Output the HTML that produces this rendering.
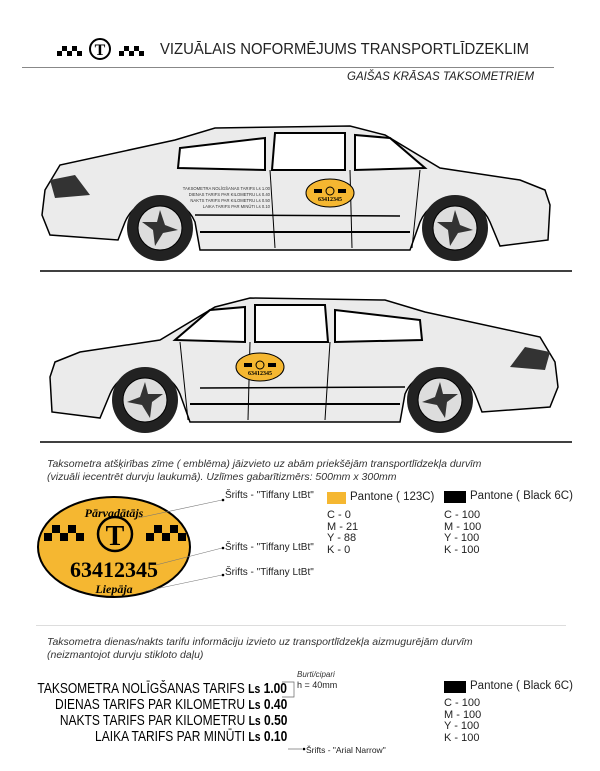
<!DOCTYPE html>
<html><head><meta charset="utf-8"><style>
body{margin:0;width:600px;height:771px;background:#fff;position:relative;font-family:"Liberation Sans",sans-serif;overflow:hidden}
.a{position:absolute;white-space:nowrap}
.sm{font-size:10px;color:#222}
.it{font-style:italic;font-size:10.5px;color:#333}
.tar{font-family:"Liberation Sans",sans-serif;font-size:15px;transform:scaleX(.8);transform-origin:right top;text-align:right;right:0}
</style></head><body>
<div class="a" style="left:55px;top:37px;">
<svg width="100" height="24" viewBox="0 0 100 24">
<g fill="#000"><rect x="2" y="14" width="5" height="5"/><rect x="7" y="9" width="5" height="5"/><rect x="12" y="14" width="5" height="5"/><rect x="17" y="9" width="5" height="5"/><rect x="22" y="14" width="5" height="5"/>
<rect x="64" y="14" width="5" height="5"/><rect x="69" y="9" width="5" height="5"/><rect x="74" y="14" width="5" height="5"/><rect x="79" y="9" width="5" height="5"/><rect x="84" y="14" width="5" height="5"/></g>
<circle cx="45" cy="12" r="10" fill="none" stroke="#000" stroke-width="2"/><text x="45" y="18" font-size="16" font-family="Liberation Serif" font-weight="bold" text-anchor="middle">T</text></svg></div>
<div class="a" style="left:160px;top:41px;font-size:15.5px;color:#222;transform:scaleX(.96);transform-origin:left top">VIZUĀLAIS NOFORMĒJUMS TRANSPORTLĪDZEKLIM</div>
<div class="a" style="left:22px;top:67px;width:532px;border-top:1px solid #888"></div>
<div class="a" style="left:347px;top:71px;font-size:11.5px;font-style:italic;color:#222">GAIŠAS KRĀSAS TAKSOMETRIEM</div>

<svg class="a" style="left:0;top:0" width="600" height="460">
<defs>
<g id="car">
<path d="M45,190 L60,165 L175,140 L215,128 L350,126 L385,135 L440,168 L520,180 L545,190 L550,205 L548,240 L500,246 L490,222 A38,38 0 0 0 420,222 L410,250 L200,250 L195,222 A38,38 0 0 0 125,222 L118,240 L50,235 L42,215 Z" fill="#ebebeb" stroke="#000" stroke-width="1.5"/>
<path d="M178,168 L180,148 L265,138 L265,170 Z" fill="#fff" stroke="#000" stroke-width="2"/>
<path d="M272,170 L275,133 L345,133 L345,170 Z" fill="#fff" stroke="#000" stroke-width="2"/>
<path d="M355,170 L355,135 L390,138 L425,168 Z" fill="#fff" stroke="#000" stroke-width="2"/>
<path d="M50,180 L75,175 L90,195 L55,198 Z" fill="#333"/>
<line x1="200" y1="232" x2="410" y2="232" stroke="#000" stroke-width="2"/>
<line x1="270" y1="170" x2="275" y2="248" stroke="#000"/>
<line x1="350" y1="170" x2="352" y2="248" stroke="#000"/>
<line x1="420" y1="170" x2="412" y2="248" stroke="#000"/>
<line x1="195" y1="215" x2="400" y2="216" stroke="#000" stroke-width="1.5"/>
<circle cx="160" cy="228" r="33" fill="#222"/><circle cx="160" cy="228" r="22" fill="#ddd" stroke="#000"/>
<path d="M160,210 L165,225 L178,230 L163,233 L155,246 L153,230 L142,222 L157,222Z" fill="#333"/>
<circle cx="455" cy="228" r="33" fill="#222"/><circle cx="455" cy="228" r="22" fill="#ddd" stroke="#000"/>
<path d="M455,210 L460,225 L473,230 L458,233 L450,246 L448,230 L437,222 L452,222Z" fill="#333"/>
</g>
<g id="emb"><ellipse cx="0" cy="0" rx="24" ry="14" fill="#f5b731" stroke="#000"/>
<rect x="-16" y="-4" width="8" height="4" fill="#000"/><rect x="8" y="-4" width="8" height="4" fill="#000"/><circle cx="0" cy="-2" r="4" fill="none" stroke="#000"/>
<text x="0" y="8" font-size="6" font-family="Liberation Serif" font-weight="bold" text-anchor="middle">63412345</text></g>
</defs>
<use href="#car"/>
<line x1="40" y1="271" x2="572" y2="271" stroke="#000" stroke-width="1.5"/>
<use href="#emb" transform="translate(330,193)"/>
<g font-size="4.2" fill="#333" text-anchor="end"><text x="270" y="190">TAKSOMETRA NOLĪGŠANAS TARIFS Ls 1.00</text><text x="270" y="196">DIENAS TARIFS PAR KILOMETRU Ls 0.40</text><text x="270" y="202">NAKTS TARIFS PAR KILOMETRU Ls 0.50</text><text x="270" y="208">LAIKA TARIFS PAR MINŪTI Ls 0.10</text></g>
<use href="#car" transform="translate(600,172) scale(-1,1)"/>
<line x1="40" y1="442" x2="572" y2="442" stroke="#000" stroke-width="1.5"/>
<use href="#emb" transform="translate(260,367)"/>
</svg>

<div class="a it" style="left:47px;top:458px;line-height:13px">Taksometra atšķirības zīme ( emblēma) jāizvieto uz abām priekšējām transportlīdzekļa durvīm<br>(vizuāli iecentrēt durvju laukumā). Uzlīmes gabarītizmērs: 500mm x 300mm</div>

<svg class="a" style="left:36px;top:495px" width="280" height="110">
<ellipse cx="78" cy="52" rx="76" ry="50" fill="#f5b731" stroke="#000" stroke-width="2"/>
<text x="78" y="22" font-size="12" font-family="Liberation Serif" font-style="italic" font-weight="bold" text-anchor="middle">Pārvadātājs</text>
<g fill="#000"><rect x="8" y="38" width="8" height="8"/><rect x="16" y="30" width="8" height="8"/><rect x="24" y="38" width="8" height="8"/><rect x="32" y="30" width="8" height="8"/><rect x="40" y="38" width="8" height="8"/>
<rect x="110" y="38" width="8" height="8"/><rect x="118" y="30" width="8" height="8"/><rect x="126" y="38" width="8" height="8"/><rect x="134" y="30" width="8" height="8"/><rect x="142" y="38" width="8" height="8"/></g>
<circle cx="79" cy="39" r="17" fill="none" stroke="#000" stroke-width="2.5"/>
<text x="79" y="50" font-size="28" font-family="Liberation Serif" font-weight="bold" text-anchor="middle">T</text>
<text x="78" y="82" font-size="22" font-family="Liberation Serif" font-weight="bold" text-anchor="middle">63412345</text>
<text x="78" y="98" font-size="12" font-family="Liberation Serif" font-style="italic" font-weight="bold" text-anchor="middle">Liepāja</text>
<g stroke="#777" stroke-width="0.6"><line x1="102" y1="23" x2="186" y2="5"/><line x1="120" y1="70" x2="186" y2="53"/><line x1="110" y1="96" x2="186" y2="80"/></g>
<g fill="#000"><circle cx="187" cy="5" r="1.3"/><circle cx="187" cy="53" r="1.3"/><circle cx="187" cy="80" r="1.3"/></g>
</svg>
<div class="a sm" style="left:225px;top:490px">Šrifts - "Tiffany LtBt"</div>
<div class="a sm" style="left:225px;top:542px">Šrifts - "Tiffany LtBt"</div>
<div class="a sm" style="left:225px;top:567px">Šrifts - "Tiffany LtBt"</div>

<div class="a" style="left:327px;top:492px;width:19px;height:12px;background:#f5b731"></div>
<div class="a" style="left:350px;top:491px;font-size:11.5px;color:#222">Pantone ( 123C)</div>
<div class="a" style="left:327px;top:510px;font-size:11px;line-height:11.5px;color:#222">C - 0<br>M - 21<br>Y - 88<br>K - 0</div>
<div class="a" style="left:444px;top:491px;width:22px;height:12px;background:#000"></div>
<div class="a" style="left:470px;top:490px;font-size:11.5px;color:#222">Pantone ( Black 6C)</div>
<div class="a" style="left:444px;top:510px;font-size:11px;line-height:11.5px;color:#222">C - 100<br>M - 100<br>Y - 100<br>K - 100</div>

<div class="a" style="left:36px;top:625px;width:530px;border-top:1px solid #ddd"></div>
<div class="a it" style="left:47px;top:636px;line-height:13px">Taksometra dienas/nakts tarifu informāciju izvieto uz transportlīdzekļa aizmugurējām durvīm<br>(neizmantojot durvju stikloto daļu)</div>

<div class="a" style="left:0;top:680px;width:287px;height:80px">
<div class="a tar" style="top:0">TAKSOMETRA NOLĪGŠANAS TARIFS <b style="font-size:13px">Ls</b> <b>1.00</b></div>
<div class="a tar" style="top:16px">DIENAS TARIFS PAR KILOMETRU <b style="font-size:13px">Ls</b> <b>0.40</b></div>
<div class="a tar" style="top:32px">NAKTS TARIFS PAR KILOMETRU <b style="font-size:13px">Ls</b> <b>0.50</b></div>
<div class="a tar" style="top:48px">LAIKA TARIFS PAR MINŪTI <b style="font-size:13px">Ls</b> <b>0.10</b></div>
</div>
<svg class="a" style="left:280px;top:676px" width="40" height="80"><g stroke="#666" stroke-width="0.7" fill="none"><path d="M2,6 H14 V21 H2"/><line x1="8" y1="73" x2="22" y2="73"/></g><circle cx="24" cy="73" r="1.3"/></svg>
<div class="a" style="left:297px;top:670px;font-size:8px;font-style:italic;color:#333">Burti/cipari</div>
<div class="a" style="left:297px;top:680px;font-size:9px;color:#222">h = 40mm</div>
<div class="a" style="left:306px;top:745px;font-size:8.5px;color:#222">Šrifts - "Arial Narrow"</div>

<div class="a" style="left:444px;top:681px;width:22px;height:12px;background:#000"></div>
<div class="a" style="left:470px;top:680px;font-size:11.5px;color:#222">Pantone ( Black 6C)</div>
<div class="a" style="left:444px;top:698px;font-size:11px;line-height:11.5px;color:#222">C - 100<br>M - 100<br>Y - 100<br>K - 100</div>
</body></html>
